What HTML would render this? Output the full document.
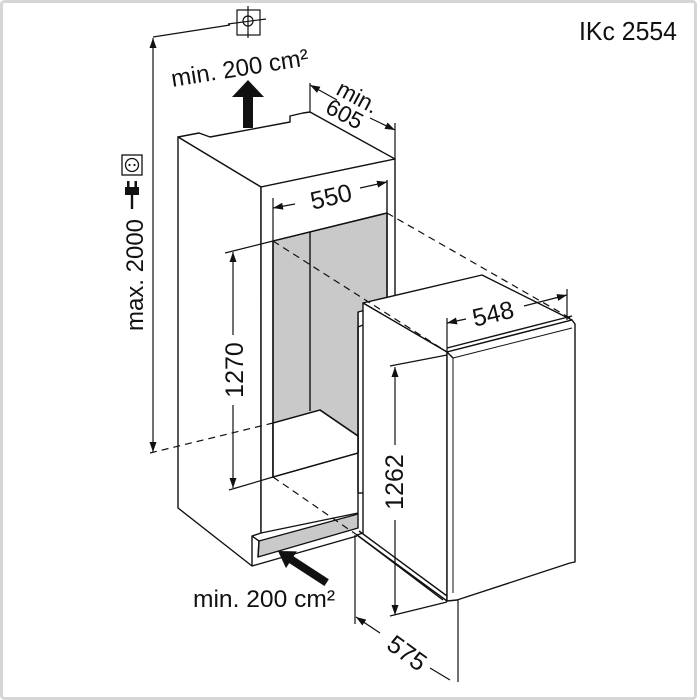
<!DOCTYPE html>
<html><head><meta charset="utf-8"><style>
html,body{margin:0;padding:0;background:#fff}
svg{display:block}
text{font-family:"Liberation Sans",sans-serif;fill:#111}
</style></head><body>
<svg width="697" height="700" viewBox="0 0 697 700" xmlns="http://www.w3.org/2000/svg">
<defs>
<marker id="a" viewBox="0 0 10 10" refX="10" refY="5" markerWidth="10" markerHeight="10" orient="auto-start-reverse" markerUnits="userSpaceOnUse"><path d="M0,1.5 L10,5 L0,8.5 z" fill="#111"/></marker>
</defs>
<rect x="1.5" y="1.5" width="694" height="697" fill="#fff" stroke="#d6d6d6" stroke-width="3" rx="3"/>
<text x="579" y="40" font-size="26" textLength="98" lengthAdjust="spacingAndGlyphs">IKc 2554</text>

<g stroke="#111" stroke-width="1.4" fill="none" stroke-linejoin="round">
<polygon points="178,137 199,133 210,137 290,122 290,116 303,113 310,112 395,159 261,187" fill="#fff"/>
<polygon points="178,137 261,187 261,533 252,536 252,566 178,508" fill="#fff"/>
<polygon points="261,187 395,159 395,300 358,310 358,513 261,533" fill="#fff"/>
<polygon points="273,241 387,213 387,305 358,312 358,453 273,477" fill="#c9c9c9"/>
<polygon points="273,423 320,410 358,436 358,453 273,477" fill="#fff"/>
<line x1="310" y1="232" x2="310" y2="411"/>
<polyline points="273,423 320,410 358,436"/>
<line x1="273" y1="477" x2="358" y2="453"/>
<line x1="273" y1="241" x2="273" y2="477"/>
<line x1="273" y1="241" x2="387" y2="213"/>
<line x1="387" y1="180" x2="387" y2="300"/>
<polygon points="259,541 358,514 358,528 258,557" fill="#c9c9c9"/>
<polyline points="252,536 259,541 258,557"/>
<line x1="252" y1="566" x2="357" y2="536"/>

<polygon points="363,303 482,275 572,320 447,352" fill="#fff"/>
<polygon points="363,303 447,352 447,601 357,535 363,533" fill="#fff"/>
<line x1="358" y1="327" x2="363" y2="325"/><line x1="358" y1="327" x2="358" y2="493"/><line x1="358" y1="493" x2="363" y2="493"/>
<polygon points="447,352 572,320 575,324 575,562 570,563 457,600 447,601" fill="#fff"/>
<line x1="453" y1="358" x2="453" y2="593" stroke-width="1"/>
<line x1="453" y1="358" x2="572" y2="328" stroke-width="1"/>
<line x1="447" y1="348" x2="572" y2="316"/>
<line x1="447" y1="352" x2="453" y2="358"/>
<line x1="357" y1="535" x2="443" y2="600"/><line x1="359" y1="531" x2="447" y2="596"/>
</g>

<g stroke="#111" stroke-width="1.2" stroke-dasharray="7,5" fill="none">
<line x1="273" y1="241" x2="447" y2="352"/>
<line x1="387" y1="213" x2="570" y2="318"/>
<line x1="273" y1="477" x2="357" y2="535"/>
<line x1="150" y1="453" x2="273" y2="423"/>
</g>

<g stroke="#111" stroke-width="1.2" fill="none">
<line x1="153" y1="350" x2="153" y2="452" marker-end="url(#a)"/>
<line x1="153" y1="350" x2="153" y2="38" marker-end="url(#a)"/>
<line x1="153" y1="37" x2="230" y2="25"/>
<rect x="237" y="10" width="23" height="25"/>
<circle cx="248" cy="21" r="5"/>
<line x1="248" y1="6" x2="248" y2="38"/>
<line x1="228" y1="24" x2="266" y2="19"/>
<line x1="310" y1="83" x2="310" y2="112"/>
<line x1="395" y1="123" x2="395" y2="159"/>
<line x1="337" y1="100" x2="310" y2="85" marker-end="url(#a)"/>
<line x1="370" y1="118" x2="395" y2="130" marker-end="url(#a)"/>
<line x1="273" y1="198" x2="273" y2="241"/>
<line x1="295" y1="204" x2="273" y2="208" marker-end="url(#a)"/>
<line x1="360" y1="188" x2="387" y2="182" marker-end="url(#a)"/>
<line x1="225" y1="253" x2="273" y2="241"/>
<line x1="229" y1="490" x2="273" y2="477"/>
<line x1="233" y1="335" x2="233" y2="252" marker-end="url(#a)"/>
<line x1="233" y1="405" x2="233" y2="488" marker-end="url(#a)"/>
<line x1="447" y1="318" x2="447" y2="352"/>
<line x1="567" y1="289" x2="567" y2="320"/>
<line x1="466" y1="319" x2="447" y2="323" marker-end="url(#a)"/>
<line x1="524" y1="306" x2="567" y2="295" marker-end="url(#a)"/>
<line x1="390" y1="366" x2="447" y2="355"/>
<line x1="390" y1="616" x2="447" y2="602"/>
<line x1="395" y1="445" x2="395" y2="367" marker-end="url(#a)"/>
<line x1="395" y1="520" x2="395" y2="615" marker-end="url(#a)"/>
<line x1="355" y1="535" x2="355" y2="624"/>
<line x1="458" y1="600" x2="458" y2="682"/>
<line x1="380" y1="633" x2="356" y2="617" marker-end="url(#a)"/>
<line x1="430" y1="668" x2="450" y2="680"/>
</g>

<polygon points="243,128 253,128 253,97 264,97 248,80 232,97 243,97" fill="#111"/>
<g transform="translate(278,551) rotate(33)"><polygon points="0,0 16,-10 16,-4 58,-4 58,4 16,4 16,10" fill="#111"/></g>

<g stroke="#111" fill="none" stroke-width="1.3">
<rect x="122" y="155" width="20" height="20"/>
<circle cx="132" cy="165" r="6.5"/>
</g>
<circle cx="129.5" cy="165" r="1.1" fill="#111"/><circle cx="134.5" cy="165" r="1.1" fill="#111"/>
<rect x="125" y="187" width="14" height="8" fill="#111"/>
<rect x="127" y="181" width="2.5" height="7" fill="#111"/><rect x="134.5" y="181" width="2.5" height="7" fill="#111"/>
<rect x="130.8" y="194" width="2.4" height="15" fill="#111"/>

<text transform="translate(143,275) rotate(-90)" font-size="24" text-anchor="middle">max. 2000</text>
<text transform="translate(241,76) rotate(-9)" font-size="24" text-anchor="middle">min. 200 cm²</text>
<text transform="translate(354,104) rotate(28)" font-size="23" text-anchor="middle">min.</text>
<text transform="translate(341,121) rotate(28)" font-size="23" text-anchor="middle">605</text>
<text transform="translate(333,205) rotate(-13)" font-size="25" text-anchor="middle">550</text>
<text transform="translate(243,370) rotate(-90)" font-size="25" text-anchor="middle">1270</text>
<text transform="translate(495,322) rotate(-13)" font-size="25" text-anchor="middle">548</text>
<text transform="translate(403,482) rotate(-90)" font-size="25" text-anchor="middle">1262</text>
<text transform="translate(402,660) rotate(36)" font-size="25" text-anchor="middle">575</text>
<text x="193" y="607" font-size="24" textLength="142" lengthAdjust="spacingAndGlyphs">min. 200 cm²</text>
</svg>
</body></html>
